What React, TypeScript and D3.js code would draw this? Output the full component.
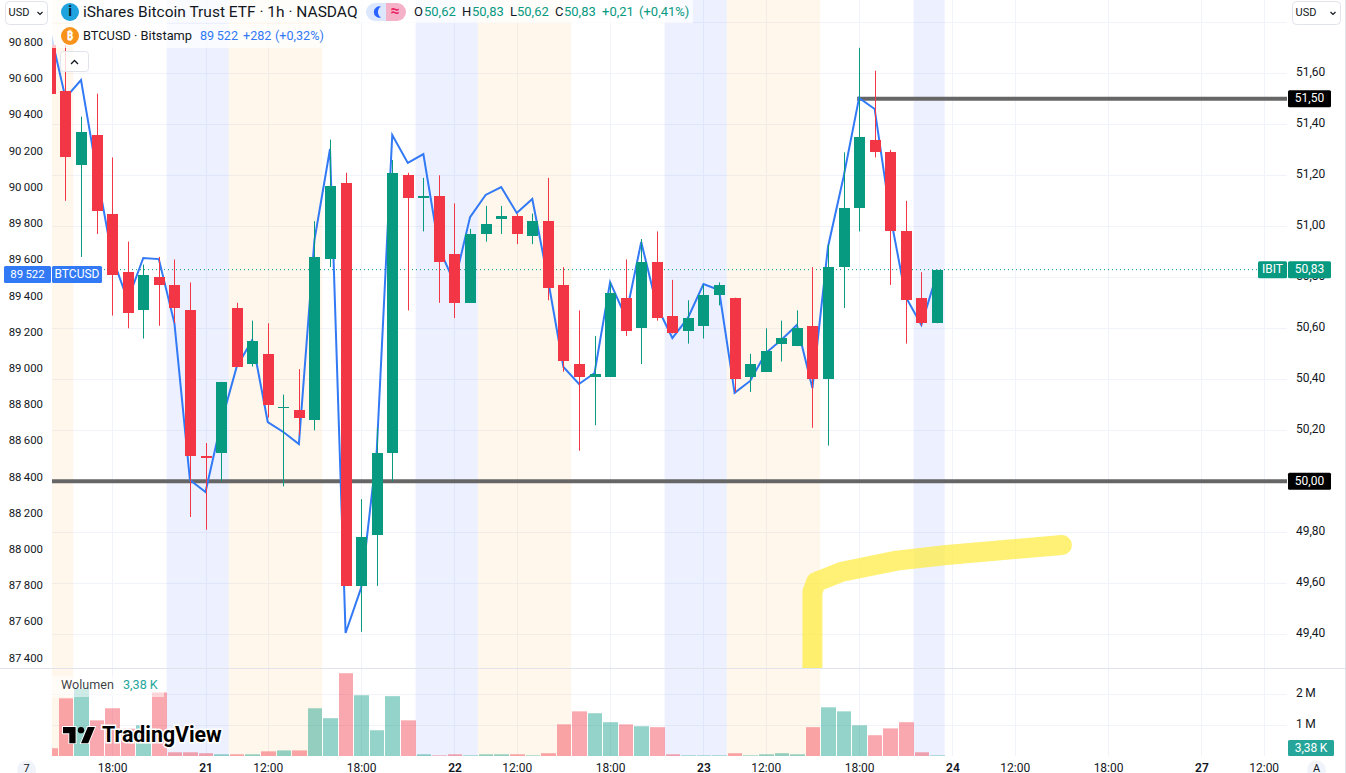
import React from 'react';
import * as d3 from 'd3';

// IBIT 1h candles (one entry per bar)
const opens = [51.71,51.53,51.24,51.36,51.05,50.82,50.67,50.80,50.77,50.67,50.10,50.11,50.68,50.46,50.50,50.29,50.28,50.24,50.87,51.17,49.59,49.79,50.11,51.20,51.11,51.12,50.89,50.70,50.97,51.03,51.04,50.96,51.02,50.77,50.46,50.41,50.41,50.72,50.60,50.86,50.65,50.59,50.61,50.73,50.72,50.41,50.43,50.54,50.53,50.61,50.40,50.84,51.07,51.34,51.29,50.98,50.72,50.62];
const highs = [51.71,51.71,51.43,51.52,51.27,50.94,50.85,50.88,50.87,50.78,50.15,50.39,50.70,50.63,50.62,50.34,50.44,51.02,51.34,51.21,49.93,50.21,51.26,51.21,51.19,51.20,51.09,50.99,51.08,51.08,51.05,51.05,51.19,50.84,50.67,50.57,50.78,50.87,50.95,50.98,50.79,50.71,50.77,50.78,50.72,50.50,50.60,50.63,50.67,50.84,50.93,51.29,51.70,51.61,51.30,51.10,50.82,50.83];
const lows = [51.52,51.10,50.88,50.97,50.65,50.60,50.56,50.61,50.62,49.86,49.81,50.00,50.45,50.45,50.25,49.98,50.18,50.20,50.84,49.59,49.41,49.59,50.00,50.67,50.98,50.70,50.64,50.70,50.94,50.97,50.93,50.93,50.71,50.43,50.12,50.22,50.41,50.57,50.46,50.63,50.58,50.54,50.56,50.69,50.35,50.35,50.43,50.47,50.53,50.21,50.14,50.68,50.98,51.27,50.77,50.54,50.61,50.62];
const closes = [51.52,51.27,51.37,51.06,50.81,50.66,50.81,50.77,50.68,50.10,50.09,50.39,50.45,50.55,50.30,50.29,50.25,50.88,51.16,49.59,49.78,50.11,51.21,51.11,51.12,50.86,50.70,50.97,51.01,51.04,50.97,51.02,50.76,50.47,50.41,50.42,50.74,50.59,50.86,50.64,50.58,50.64,50.73,50.77,50.40,50.46,50.51,50.56,50.60,50.40,50.84,51.07,51.35,51.29,50.98,50.71,50.62,50.83];
// BTCUSD overlay, left axis
const btc = [90869,90494,90593,90090,89616,89378,89610,89604,89251,88384,88318,88699,89008,89157,88704,88649,88583,89709,90212,87539,87788,88539,90289,90135,90184,89665,89472,89836,89958,90002,89859,89936,89494,89008,88914,88975,89477,89284,89698,89345,89168,89279,89466,89433,88865,88931,89085,89157,89240,88892,89671,90057,90494,90433,89847,89395,89240,89522];
// volume in millions
const volumes = [0.26,1.87,2.18,1.16,1.55,0.89,1.0,2.06,0.13,0.13,0.10,0.065,0.065,0.065,0.16,0.19,0.19,1.55,1.23,2.68,1.97,0.84,1.94,1.16,0.065,0.03,0.065,0.03,0.065,0.065,0.065,0.03,0.10,1.03,1.45,1.39,1.10,1.03,0.97,0.94,0.065,0.03,0.03,0.03,0.10,0.03,0.065,0.10,0.065,0.94,1.58,1.45,1.0,0.68,0.90,1.10,0.13,0.03];

// first and last bar of each extended-hours session
const preSessions = [[8, 11], [24, 27], [40, 43], [56, 57]];
const postSessions = [[-1, 1], [12, 17], [28, 33], [44, 49]];

const timeTicks = [
  { bar: 4, label: '18:00' }, { bar: 10, label: '21', day: true }, { bar: 14, label: '12:00' },
  { bar: 20, label: '18:00' }, { bar: 26, label: '22', day: true }, { bar: 30, label: '12:00' },
  { bar: 36, label: '18:00' }, { bar: 42, label: '23', day: true }, { bar: 46, label: '12:00' },
  { bar: 52, label: '18:00' }, { bar: 58, label: '24', day: true }, { bar: 62, label: '12:00' },
  { bar: 68, label: '18:00' }, { bar: 74, label: '27', day: true }, { bar: 78, label: '12:00' },
];
const rightTicks = [51.8, 51.6, 51.4, 51.2, 51.0, 50.8, 50.6, 50.4, 50.2, 50.0, 49.8, 49.6, 49.4];
const rightHidden = [51.8, 50.0];
const leftTicks = [90800, 90600, 90400, 90200, 90000, 89800, 89600, 89400, 89200, 89000, 88800, 88600, 88400, 88200, 88000, 87800, 87600, 87400];
const volumeTicks = [1, 2];

const level50 = 50;
const level515 = 51.5;
const lastClose = 50.83;
const lastBtc = 89522;
// hand drawn yellow marker [bar, price]
const marker: [number, number][] = [[49, 49.27], [49, 49.566], [49.24, 49.605], [50.89, 49.645], [54.42, 49.689], [57.63, 49.711], [65.03, 49.75]];

const RED = '#F23645';
const GREEN = '#089981';
const BLUE = '#3179F5';
const GRID = '#F0F3FA';
const BORDER = '#E0E3EB';
const TEXT = '#131722';
const FONT = 'Roboto, "Noto Sans", sans-serif';

const W = 1346;
const H = 773;
const plotLeft = 52;
const plotRight = 1287;
const paneBottom = 668;
const volBottom = 756;

const x = d3.scaleLinear().domain([0, 57]).range([49.9, 936.9]);
const y = d3.scaleLinear().domain([50, 51]).range([481.3, 226.3]);
const yBtc = d3.scaleLinear().domain([90800, 87400]).range([42.5, 658.2]);
const yVol = d3.scaleLinear().domain([0, 2]).range([756.3, 694.3]);
const step = x(1) - x(0);

const comma = (v: number) => v.toFixed(2).replace('.', ',');
const spaced = (v: number) => d3.format(',')(v).replace(',', '\u2009');

const btcLine = d3.line<number>().x((_, i) => x(i)).y(d => yBtc(d));
const markerLine = d3.line<[number, number]>().x(d => x(d[0])).y(d => y(d[1]));

const PriceTag = ({ px, py, w, h, fill, text, size = 12 }: any) => (
  <g>
    <rect x={px} y={py - h / 2} width={w} height={h} fill={fill} rx={1.5} />
    <text x={px + w / 2} y={py + 0.5} fill="#fff" fontSize={size} textAnchor="middle" dominantBaseline="middle">{text}</text>
  </g>
);

const UsdButton = ({ left, width }: { left: number; width: number }) => (
  <g>
    <rect x={left + 0.5} y={1.5} width={width} height={23} rx={4} fill="#fff" stroke={BORDER} />
    <text x={left + 3.5} y={13} fontSize={11} fill={TEXT} dominantBaseline="middle">USD</text>
    <path d={`M${left + width - 9.5} 12l2.5 2.5 2.5-2.5`} fill="none" stroke={TEXT} strokeWidth={1.2} />
  </g>
);

export default function App() {
  const bandRect = (s: number[], fill: string, key: string) => {
    const x0 = Math.max(plotLeft, x(s[0]) - step / 2);
    const x1 = x(s[1]) + step / 2;
    return (
      <g key={key}>
        <rect x={x0} y={0} width={x1 - x0} height={paneBottom} fill={fill} />
        <rect x={x0} y={paneBottom + 1} width={x1 - x0} height={volBottom - paneBottom - 1} fill={fill} />
      </g>
    );
  };

  return (
    <svg width={W} height={H} viewBox={`0 0 ${W} ${H}`} fontFamily={FONT} style={{ position: 'absolute', left: 0, top: 0, display: 'block', background: '#fff' }}>
      <defs>
        <clipPath id="plot"><rect x={plotLeft} y={0} width={plotRight - plotLeft} height={paneBottom} /></clipPath>
        <clipPath id="vol"><rect x={plotLeft} y={paneBottom} width={plotRight - plotLeft} height={volBottom - paneBottom} /></clipPath>
      </defs>

      {/* grid */}
      {timeTicks.map(t => (
        <line key={t.bar} x1={Math.round(x(t.bar)) + 0.5} x2={Math.round(x(t.bar)) + 0.5} y1={0} y2={volBottom} stroke={GRID} />
      ))}
      {rightTicks.map(t => (
        <line key={t} x1={plotLeft} x2={plotRight} y1={Math.round(y(t)) + 0.5} y2={Math.round(y(t)) + 0.5} stroke={GRID} />
      ))}
      {volumeTicks.map(t => (
        <line key={t} x1={plotLeft} x2={plotRight} y1={Math.round(yVol(t)) + 0.5} y2={Math.round(yVol(t)) + 0.5} stroke={GRID} />
      ))}

      {/* sessions */}
      {preSessions.map((s, i) => bandRect(s, 'rgba(41,98,255,0.085)', `pre${i}`))}
      {postSessions.map((s, i) => bandRect(s, 'rgba(255,152,0,0.08)', `post${i}`))}

      <g clipPath="url(#plot)">
        <path d={markerLine(marker) ?? ''} fill="none" stroke="rgba(255,235,59,0.7)" strokeWidth={20} strokeLinecap="round" strokeLinejoin="round" />
        <line x1={plotLeft} x2={plotRight} y1={y(level50)} y2={y(level50)} stroke="#666" strokeWidth={4} />
        <line x1={x(52) - 2} x2={plotRight} y1={y(level515)} y2={y(level515)} stroke="#666" strokeWidth={4} />
        <line x1={plotLeft} x2={1258} y1={y(lastClose)} y2={y(lastClose)} stroke={GREEN} strokeDasharray="1 3" />
        <path d={btcLine(btc) ?? ''} fill="none" stroke={BLUE} strokeWidth={2} strokeLinejoin="miter" />

        {/* candles */}
        {opens.map((o, i) => {
          const c = closes[i];
          const color = c >= o ? GREEN : RED;
          const cx = Math.round(x(i));
          const top = Math.round(y(Math.max(o, c)));
          const bottom = Math.round(y(Math.min(o, c)));
          return (
            <g key={i}>
              <rect x={cx} y={y(highs[i])} width={1} height={y(lows[i]) - y(highs[i])} fill={color} />
              <rect x={cx - 5} y={top} width={11} height={Math.max(bottom - top, 1)} fill={color} />
            </g>
          );
        })}
      </g>

      {/* volume */}
      <g clipPath="url(#vol)">
        {volumes.map((v, i) => {
          const left = Math.round(x(i) - step / 2) + 1;
          const right = Math.round(x(i) + step / 2);
          return (
            <rect key={i} x={left} y={yVol(v)} width={right - left} height={yVol(0) - yVol(v)}
              fill={closes[i] >= opens[i] ? 'rgba(8,153,129,0.43)' : 'rgba(242,54,69,0.43)'} />
          );
        })}
      </g>

      {/* pane borders */}
      <line x1={0} x2={W} y1={paneBottom + 0.5} y2={paneBottom + 0.5} stroke={BORDER} />
      <line x1={W - 0.5} x2={W - 0.5} y1={0} y2={H} stroke={BORDER} />

      {/* left axis */}
      <rect x={0} y={0} width={plotLeft} height={paneBottom} fill="#fff" />
      {leftTicks.map(t => (
        <text key={t} x={43} y={yBtc(t) + 0.5} fontSize={11.4} fill={TEXT} textAnchor="end" dominantBaseline="middle">{spaced(t)}</text>
      ))}
      <PriceTag px={4} py={yBtc(lastBtc) + 0.5} w={47} h={17} fill={BLUE} text={spaced(lastBtc)} size={11.4} />
      <PriceTag px={52} py={yBtc(lastBtc) + 0.5} w={50} h={17} fill={BLUE} text="BTCUSD" />

      {/* right axis */}
      {rightTicks.filter(t => !rightHidden.includes(t)).map(t => (
        <text key={t} x={1296} y={y(t) - 0.5} fontSize={12} fill={TEXT} dominantBaseline="middle">{comma(t)}</text>
      ))}
      <PriceTag px={1288} py={y(level515)} w={43} h={17} fill="#000" text={comma(level515)} />
      <PriceTag px={1288} py={y(level50)} w={43} h={17} fill="#000" text={comma(level50)} />
      <PriceTag px={1258} py={y(lastClose)} w={29} h={17} fill={GREEN} text="IBIT" />
      <PriceTag px={1288} py={y(lastClose)} w={43} h={17} fill={GREEN} text={comma(lastClose)} />

      {volumeTicks.map(t => (
        <text key={t} x={1296} y={yVol(t)} fontSize={12} fill={TEXT} dominantBaseline="middle">{`${t}\u2009M`}</text>
      ))}
      <PriceTag px={1288} py={748} w={46} h={16} fill="#26A69A" text={'3,38\u2009K'} />

      {/* time axis */}
      {timeTicks.map(t => (
        <text key={t.bar} x={x(t.bar) + 0.5} y={768.5} fontSize={12} fontWeight={t.day ? 600 : 400} fill={TEXT} textAnchor="middle" dominantBaseline="middle">{t.label}</text>
      ))}
      <circle cx={26.5} cy={770} r={9.5} fill={GRID} />
      <text x={26.5} y={769} fontSize={11} fill={TEXT} textAnchor="middle" dominantBaseline="middle">7</text>
      <circle cx={1316.5} cy={770} r={9.5} fill={GRID} />
      <text x={1316.5} y={769} fontSize={11} fill={TEXT} textAnchor="middle" dominantBaseline="middle">A</text>

      {/* legend */}
      <rect x={plotLeft} y={0} width={641} height={23} fill="#fff" fillOpacity={0.72} />
      <rect x={plotLeft} y={24} width={278} height={24} fill="#fff" fillOpacity={0.72} />
      <circle cx={70} cy={12} r={9} fill="#1EA3DE" />
      <text x={70} y={12.5} fontSize={14} fontWeight={700} fill="#0B1F2C" textAnchor="middle" dominantBaseline="middle">i</text>
      <text x={83} y={12.5} fontSize={15.5} fill={TEXT} dominantBaseline="middle">iShares Bitcoin Trust ETF · 1h · NASDAQ</text>
      <path d="M375 3h11v18h-11a9 9 0 0 1 0-18z" fill="#DCE7FD" />
      <path d="M386 3h11a9 9 0 0 1 0 18h-11z" fill="#F5B1C8" />
      <path d="M381 6.5a5.7 5.7 0 1 0 0 11a6.5 6.5 0 0 1 0-11z" fill="#2962FF" />
      <text x={395} y={12} fontSize={16} fontWeight={700} fill="#E91E63" textAnchor="middle" dominantBaseline="middle">≈</text>
      <g fontSize={13}>
        {[
          { l: 'O', lx: 414, vx: 424, v: '50,62' },
          { l: 'H', lx: 462, vx: 472, v: '50,83' },
          { l: 'L', lx: 510, vx: 517, v: '50,62' },
          { l: 'C', lx: 555, vx: 564, v: '50,83' },
        ].map(d => (
          <g key={d.l}>
            <text x={d.lx} y={12.5} fill={TEXT} dominantBaseline="middle">{d.l}</text>
            <text x={d.vx} y={12.5} fill={GREEN} dominantBaseline="middle">{d.v}</text>
          </g>
        ))}
        <text x={602} y={12.5} fill={GREEN} dominantBaseline="middle">+0,21</text>
        <text x={639} y={12.5} fill={GREEN} dominantBaseline="middle">(+0,41%)</text>
      </g>
      <circle cx={70} cy={36} r={9} fill="#F7931A" />
      <text x={70} y={36.5} fontSize={12} fontWeight={700} fill="#fff" textAnchor="middle" dominantBaseline="middle">₿</text>
      <text x={83} y={36.5} fontSize={12.8} fill={TEXT} dominantBaseline="middle">BTCUSD · Bitstamp</text>
      <g fontSize={12.6} fill={BLUE}>
        <text x={200} y={36.5} dominantBaseline="middle">{spaced(lastBtc)}</text>
        <text x={243} y={36.5} dominantBaseline="middle">+282</text>
        <text x={275} y={36.5} dominantBaseline="middle">(+0,32%)</text>
      </g>
      <rect x={60.5} y={51.5} width={28} height={20} rx={3} fill="#fff" fillOpacity={0.8} stroke={BORDER} />
      <path d="M71 64l3.5-3.5 3.5 3.5" fill="none" stroke={TEXT} strokeWidth={1.3} />

      <UsdButton left={5} width={42} />
      <UsdButton left={1292} width={48} />

      {/* volume legend and logo */}
      <rect x={plotLeft} y={676} width={112} height={21} fill="#fff" fillOpacity={0.55} />
      <text x={61} y={686} fontSize={12.6} fill={TEXT} fillOpacity={0.85} dominantBaseline="middle">Wolumen</text>
      <text x={123} y={686} fontSize={12.6} fill="#26A69A" dominantBaseline="middle">3,38 K</text>
      <g transform="translate(63,727) scale(0.9)">
        <path d="M14 18H7V7H0V0h14v18zM28 18h-8L27.5 0h8L28 18z" fill="#000" stroke="#fff" strokeWidth={2} paintOrder="stroke" />
        <circle cx={20} cy={3.5} r={3.5} fill="#000" />
      </g>
      <text x={102} y={736} fontSize={21.3} fontWeight={700} fill="#000" stroke="#fff" strokeWidth={3} paintOrder="stroke" dominantBaseline="middle">TradingView</text>
    </svg>
  );
}
